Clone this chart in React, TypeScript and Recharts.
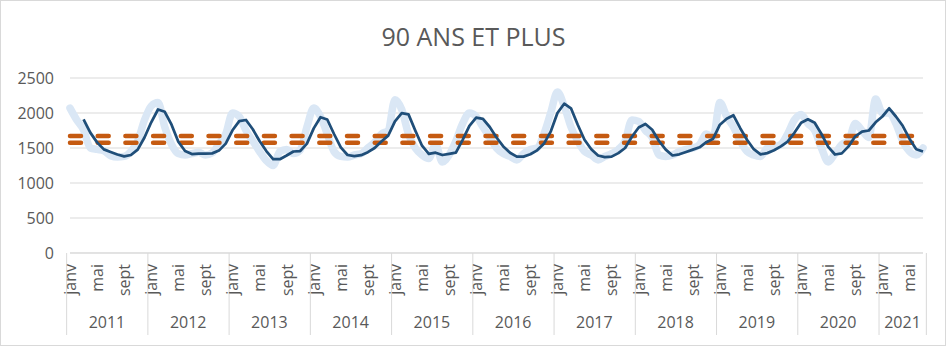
import React from "react";
import { ComposedChart, Line, XAxis, YAxis, CartesianGrid, ReferenceLine } from "recharts";

const moisNoms = ["janv", "févr", "mars", "avr", "mai", "juin", "juil", "août", "sept", "oct", "nov", "déc"];
const annees = [2011, 2012, 2013, 2014, 2015, 2016, 2017, 2018, 2019, 2020, 2021];
const moisAffiches = ["janv", "mai", "sept"];
const yTicks = [0, 500, 1000, 1500, 2000, 2500];

// décès mensuels, 90 ans et plus (courbe bleu clair)
const deces = [
  2070, 1900, 1760, 1500, 1480, 1460, 1390, 1370, 1380, 1450, 1600, 1900,
  2100, 2150, 1800, 1550, 1420, 1400, 1420, 1440, 1400, 1430, 1560, 1700,
  2000, 1950, 1750, 1600, 1450, 1320, 1250, 1450, 1480, 1420, 1470, 1800,
  2070, 1950, 1700, 1450, 1380, 1370, 1400, 1420, 1500, 1580, 1700, 1750,
  2190, 2050, 1700, 1500, 1400, 1350, 1550, 1300, 1400, 1600, 1850, 2000,
  1950, 1800, 1650, 1500, 1420, 1380, 1330, 1420, 1480, 1500, 1700, 2000,
  2300, 2100, 1800, 1600, 1450, 1400, 1330, 1380, 1420, 1480, 1600, 1900,
  1880, 1750, 1650, 1400, 1380, 1400, 1450, 1480, 1500, 1550, 1700, 1650,
  2150, 1950, 1800, 1600, 1450, 1400, 1380, 1500, 1520, 1550, 1700, 1900,
  1980, 1850, 1750, 1500, 1300, 1420, 1550, 1600, 1850, 1750, 1650, 2200,
  2000, 2000, 1850, 1600, 1450, 1400, 1500,
];

// moyenne mobile sur 3 mois (courbe bleu foncé)
const moyenne: (number | null)[] = [
  null, null, 1910, 1720, 1580, 1480, 1443, 1407, 1380, 1400, 1477, 1650,
  1867, 2050, 2017, 1833, 1590, 1457, 1413, 1420, 1420, 1423, 1463, 1563,
  1753, 1883, 1900, 1767, 1600, 1457, 1340, 1340, 1393, 1450, 1457, 1563,
  1780, 1940, 1907, 1700, 1510, 1400, 1383, 1397, 1440, 1500, 1593, 1677,
  1880, 1997, 1980, 1750, 1533, 1417, 1433, 1400, 1417, 1433, 1617, 1817,
  1933, 1917, 1800, 1650, 1523, 1433, 1377, 1377, 1410, 1467, 1560, 1733,
  2000, 2133, 2067, 1833, 1617, 1483, 1393, 1370, 1377, 1427, 1500, 1660,
  1793, 1843, 1760, 1600, 1477, 1393, 1410, 1443, 1477, 1510, 1583, 1633,
  1833, 1917, 1967, 1783, 1617, 1483, 1410, 1427, 1467, 1523, 1590, 1717,
  1860, 1910, 1860, 1700, 1517, 1407, 1423, 1523, 1667, 1733, 1750, 1867,
  1950, 2067, 1950, 1817, 1633, 1483, 1450,
];

const seuilHaut = 1670;
const seuilBas = 1575;

const data = deces.map((v, i) => ({
  i,
  annee: annees[Math.floor(i / 12)],
  mois: moisNoms[i % 12],
  deces: v,
  moyenne: moyenne[i],
}));

const W = 947;
const H = 347;
const PLOT_L = 70;
const PLOT_R = 923;
const PLOT_B = 253;
const N = data.length;
const BW = (PLOT_R - PLOT_L) / N;
const GRID = "#D9D9D9";
const TXT = "#595959";
const FONT = "'Open Sans', sans-serif";

const MonthTick = (props: any) => {
  const { x, payload } = props;
  const i = Number(payload.value);
  const d = data[i];
  if (!d) return null;
  const m = i % 12;
  const left = x - BW / 2;
  const monthsInYear = data.filter((e) => e.annee === d.annee).length;
  return (
    <g>
      {m === 0 && (
        <line x1={left} x2={left} y1={PLOT_B} y2={335} stroke={GRID} strokeWidth={1} />
      )}
      {m === 0 && (
        <text
          x={left + (monthsInYear * BW) / 2}
          y={328.3}
          textAnchor="middle"
          fill={TXT}
          fontSize={16}
          fontFamily={FONT}
        >
          {d.annee}
        </text>
      )}
      {i === N - 1 && (
        <line x1={x + BW / 2} x2={x + BW / 2} y1={PLOT_B} y2={335} stroke={GRID} strokeWidth={1} />
      )}
      {moisAffiches.includes(d.mois) && (
        <text
          transform={`translate(${x},264) rotate(-90)`}
          textAnchor="end"
          dy={5.9}
          fill={TXT}
          fontSize={16}
          fontFamily={FONT}
        >
          {d.mois}
        </text>
      )}
    </g>
  );
};

export default function App() {
  return (
    <div style={{ position: "absolute", left: 0, top: 0, width: W, height: H, background: "#fff" }}>
      <div
        style={{
          position: "absolute",
          left: 0,
          top: 0,
          width: W - 1,
          height: H - 1,
          boxSizing: "border-box",
          border: `1px solid ${GRID}`,
        }}
      />
      <div
        style={{
          position: "absolute",
          left: 0,
          top: 19,
          width: W,
          textAlign: "center",
          fontFamily: FONT,
          fontSize: 25,
          lineHeight: "34px",
          color: TXT,
        }}
      >
        90 ANS ET PLUS
      </div>
      <div style={{ position: "absolute", left: 0, top: 0 }}>
        <ComposedChart
          width={W}
          height={H}
          data={data}
          margin={{ top: 78, right: W - PLOT_R, left: 10, bottom: 0 }}
        >
          <CartesianGrid horizontal vertical={false} stroke={GRID} strokeWidth={1} />
          <XAxis
            dataKey="i"
            type="category"
            interval={0}
            height={PLOT_B - 0 > 0 ? H - PLOT_B : 94}
            tickLine={false}
            tickSize={0}
            axisLine={{ stroke: GRID, strokeWidth: 1 }}
            tick={<MonthTick />}
          />
          <YAxis
            width={60}
            domain={[0, 2500]}
            ticks={yTicks}
            interval={0}
            axisLine={false}
            tickLine={false}
            tickSize={0}
            tickMargin={16}
            tick={{ fill: TXT, fontSize: 16, fontFamily: FONT }}
          />
          <Line
            dataKey="deces"
            type="monotone"
            stroke="#DAE7F5"
            strokeWidth={7.5}
            strokeLinejoin="round"
            strokeLinecap="round"
            dot={false}
            activeDot={false}
            isAnimationActive={false}
          />
          <ReferenceLine
            segment={[
              { x: 0, y: seuilHaut },
              { x: N - 1, y: seuilHaut },
            ]}
            stroke="#C55A11"
            strokeWidth={4.5}
            strokeDasharray="11 16.7"
            strokeLinecap="round"
          />
          <ReferenceLine
            segment={[
              { x: 0, y: seuilBas },
              { x: N - 1, y: seuilBas },
            ]}
            stroke="#C55A11"
            strokeWidth={4.5}
            strokeDasharray="11 16.7"
            strokeLinecap="round"
          />
          <Line
            dataKey="moyenne"
            type="linear"
            stroke="#1F4E79"
            strokeWidth={2.75}
            strokeLinejoin="round"
            dot={false}
            activeDot={false}
            connectNulls={false}
            isAnimationActive={false}
          />
        </ComposedChart>
      </div>
    </div>
  );
}
